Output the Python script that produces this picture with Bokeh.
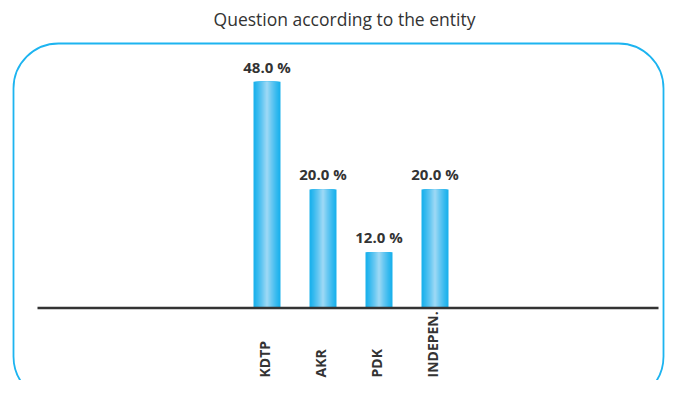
import numpy as np
from bokeh.plotting import figure
from bokeh.models import Range1d, BoxAnnotation
from bokeh.core.properties import value
from bokeh.embed import file_html
from bokeh.resources import INLINE

# ---- data ----
title_text = "Question according to the entity"
categories = ["KDTP", "AKR", "PDK", "INDEPEN."]
percentages = [48.0, 20.0, 12.0, 20.0]
value_labels = ["48.0 %", "20.0 %", "12.0 %", "20.0 %"]

# ---- layout constants ----
W, H = 665, 380
BASE = 7.62            # log-axis baseline value
LB = np.log10(BASE)
PX_PER_DEC = 283.0
PX_PER_CAT = 56.0
X0_PX = 266.5          # pixel of first category center
BASE_PX = 307.5        # pixel of baseline (from top)

def X(px):
    return (px - X0_PX) / PX_PER_CAT

def Y(py):
    return 10 ** (LB + (BASE_PX - py) / PX_PER_DEC)

p = figure(width=W, height=H, output_backend="svg", toolbar_location=None,
           x_range=Range1d(X(0), X(W)), y_range=Range1d(Y(H), Y(0)),
           y_axis_type="log", min_border=0)
p.axis.visible = False
p.grid.visible = False
p.outline_line_color = None
p.background_fill_color = "white"
p.border_fill_color = "white"

# rounded frame
p.add_layout(BoxAnnotation(left=X(13), right=X(663), top=Y(43), bottom=Y(401),
                           fill_color=None, fill_alpha=0,
                           line_color="#1DB4F0", line_alpha=1.0, line_width=1.8,
                           border_radius=45))

xs = np.arange(len(categories), dtype=float)
bar_w = 27.0 / PX_PER_CAT

# gradient bars as nested bars (edge colour outside, lighter towards the centre)
N = 14
edge = np.array([0x1A, 0xB1, 0xEC], dtype=float)
center = np.array([0x9A, 0xD7, 0xF5], dtype=float)
bx, btop, bw, bcol = [], [], [], []
for k in range(N):
    frac = 1 - k / N
    m = (k / (N - 1)) ** 1.2
    c = edge + (center - edge) * m
    col = "#%02x%02x%02x" % tuple(int(round(q)) for q in c)
    for xi, v in zip(xs, percentages):
        bx.append(xi)
        btop.append(v)
        bw.append(bar_w * frac)
        bcol.append(col)
p.vbar(x=bx, top=btop, bottom=BASE, width=bw, color=bcol, line_color=None)

# baseline
p.segment(x0=[X(37)], y0=[BASE], x1=[X(658)], y1=[BASE], line_color="#333333", line_width=2.5)

# value labels
p.text(x=xs, y=percentages, text=value_labels, text_align="center",
       text_baseline="bottom", y_offset=-5,
       text_font=value("Open Sans"), text_font_style="bold",
       text_font_size="15px", text_color="#333333")

# category labels (vertical)
p.text(x=xs, y=[Y(377)] * len(categories), text=categories, angle=np.pi / 2,
       text_align="left", text_baseline="middle", x_offset=-3,
       text_font=value("Open Sans"), text_font_style="bold",
       text_font_size="14px", text_color="#333333")

# title
p.text(x=[X(344)], y=[Y(18)], text=[title_text], text_align="center",
       text_baseline="middle", text_font=value("Open Sans"),
       text_font_size="17.5px", text_color="#333333")

open("out.html", "w").write(file_html(p, INLINE))
